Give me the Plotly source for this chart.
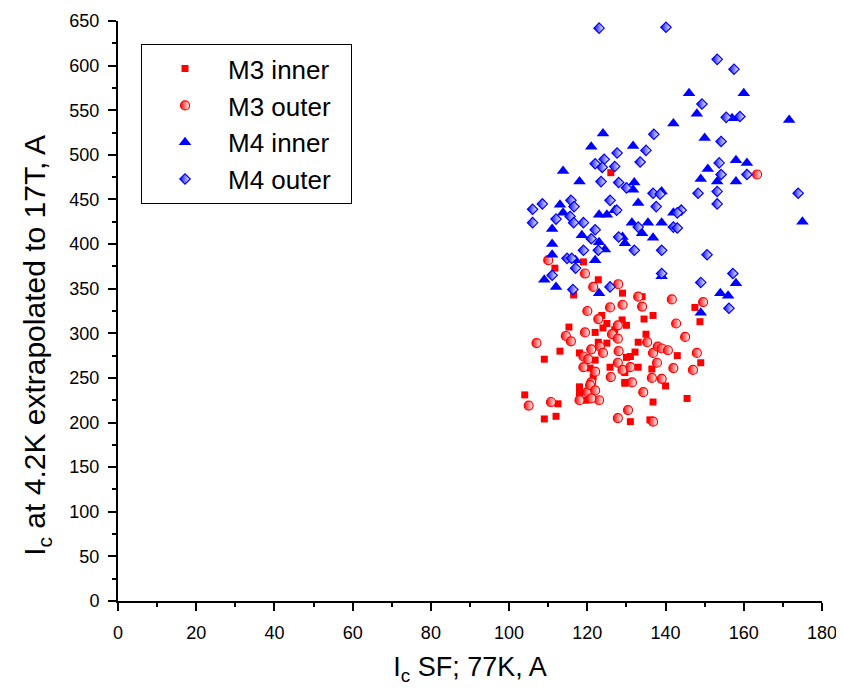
import plotly.graph_objects as go

# M3 inner (red squares)
m3_inner_x = [126, 111.7, 119, 116.5, 122.8, 129, 123.7, 147.5, 134, 136.8, 115.3, 113, 109, 122, 124,
              125, 127, 128.9, 118, 122.8, 125, 122, 120.7, 121.5, 125.8, 130, 129.6, 118, 118, 119.7,
              104, 112.5, 112, 109, 148.8, 135, 133, 132.2, 131, 143, 149, 136.5, 133, 129.6, 129.6,
              140, 136.8, 145.5, 131, 136, 130, 134.5]
m3_inner_y = [480, 373, 380, 343, 360, 345, 320, 329, 341, 320, 307, 280, 271, 301, 306,
              311, 304, 315, 278, 290, 289, 270, 261, 251, 262, 273, 245, 240, 233, 225,
              231, 221, 207, 204, 313, 299, 290, 279, 274, 275, 267, 260, 262, 256, 244,
              241, 223, 227, 201, 203, 309, 316]

# M3 outer (red half-filled circles)
m3_outer_x = [163.4, 110, 119.4, 121.5, 127.9, 120, 125.8, 129, 141.6, 149.6, 133, 134, 114.5, 115.8, 107,
              119.4, 122.8, 126.3, 127.8, 119, 121, 123.2, 124, 120.2, 119, 122, 121, 126, 127.8, 128,
              127.8, 129, 120, 120.7, 122, 118, 123, 121, 105, 110.7, 127.8, 142.7, 145, 135.3, 136.8,
              138, 139, 140.6, 148, 147, 142, 137.8, 131, 131.4, 136.5, 139, 134.3, 130.4, 136.8]
m3_outer_y = [478, 382, 367, 352, 355, 325, 329, 332, 338, 335, 341, 330, 297, 291, 289,
              301, 316, 299, 309, 274, 282, 285, 278, 271, 262, 257, 245, 251, 267, 280,
              294, 259, 234, 242, 236, 225, 225, 227, 219, 223, 205, 311, 296, 290, 278,
              285, 283, 281, 278, 259, 261, 267, 262, 245, 250, 249, 234, 214, 201]

# M4 inner (blue triangles)
m4_inner_x = [146, 160, 148, 157, 171.6, 142, 150, 158, 160.8, 150.8, 149, 153.2, 158, 139, 124,
              121, 131.7, 113.8, 118, 132, 131.7, 113, 113.8, 111, 118.6, 123, 124.5, 111, 111, 123,
              125, 127, 129, 117, 122, 109, 112, 123, 133, 142, 131.4, 135.5, 139, 134, 136.8,
              129.6, 175, 139, 158, 154, 156, 149]
m4_inner_y = [569, 569, 546, 541, 539, 535, 519, 494, 491, 484, 473, 470, 470, 459, 524,
              509, 510, 482, 470, 469, 461, 444, 435, 417, 410, 402, 394, 400, 388, 433,
              433, 438, 408, 382, 382, 360, 352, 345, 446, 435, 424, 424, 424, 412, 407,
              401, 425, 364, 356, 345, 342, 323]

# M4 outer (blue half-filled diamonds)
m4_outer_x = [123, 140.1, 153.2, 157.5, 149.3, 155.5, 159, 137, 135, 133.5, 154.2, 153.7, 154.2, 160.8, 148.3,
              153.2, 173.9, 136.8, 138.6, 127.6, 122, 124.3, 127, 123.8, 123.5, 128, 130, 106, 108.5, 115.8,
              116.6, 106, 112, 115.6, 116.5, 119, 122, 121, 122.8, 119, 125.8, 127.5, 128, 114.8, 116,
              117, 111, 116.3, 125.8, 137.6, 144, 143, 133, 142, 143, 132, 139, 150.6, 153.2, 139,
              149, 157.2, 156.2]
m4_outer_y = [642, 643, 607, 596, 557, 542, 543, 523, 505, 492, 515, 491, 478, 478, 457,
              459, 457, 457, 456, 502, 490, 495, 487, 486, 470, 469, 463, 439, 445, 449,
              442, 424, 428, 431, 424, 424, 416, 406, 393, 393, 449, 438, 408, 384, 384,
              373, 365, 349, 352, 442, 438, 435, 419, 419, 418, 393, 393, 388, 445, 367,
              357, 367, 328]

font = "Liberation Sans, Arial, sans-serif"
pad = "\u00a0\u00a0"

fig = go.Figure()

fig.add_trace(go.Scatter(x=m3_inner_x, y=m3_inner_y, mode="markers", name="M3 inner" + pad,
                         marker=dict(symbol="square", size=7, color="#ff0000")))
fig.add_trace(go.Scatter(x=m3_outer_x, y=m3_outer_y, mode="markers", name="M3 outer" + pad,
                         marker=dict(symbol="circle", size=9, color="#ff0000",
                                     gradient=dict(type="horizontal", color="white"),
                                     line=dict(color="#ff0000", width=1.2))))
fig.add_trace(go.Scatter(x=m4_inner_x, y=m4_inner_y, mode="markers", name="M4 inner" + pad,
                         marker=dict(symbol="triangle-up", size=11, color="#0000ff")))
fig.add_trace(go.Scatter(x=m4_outer_x, y=m4_outer_y, mode="markers", name="M4 outer" + pad,
                         marker=dict(symbol="diamond", size=8, color="#0000ff",
                                     gradient=dict(type="horizontal", color="white"),
                                     line=dict(color="#0000ff", width=1.2))))

axis_common = dict(showline=True, linecolor="black", linewidth=2, showgrid=False, zeroline=False,
                   tickcolor="black", tickwidth=1.5, ticklen=8, automargin=False)

# page body has an 8px margin, so the figure is 8px smaller and margins shifted
fig.update_layout(
    width=836, height=683,
    margin=dict(l=110, r=22, t=13, b=90),
    plot_bgcolor="white", paper_bgcolor="white",
    font=dict(family=font, color="black"),
    showlegend=True,
    xaxis=dict(range=[0, 180], dtick=20, ticks="outside", ticklabelstandoff=6,
               minor=dict(dtick=10, ticks="outside", ticklen=4, tickcolor="black", tickwidth=1.5),
               tickfont=dict(size=18),
               title=dict(text="I<sub>c</sub> SF; 77K, A", font=dict(size=27), standoff=16),
               **axis_common),
    yaxis=dict(range=[0, 650], dtick=50, ticks="outside", ticklabelstandoff=5,
               minor=dict(dtick=25, ticks="outside", ticklen=4, tickcolor="black", tickwidth=1.5),
               tickfont=dict(size=18),
               **axis_common),
    xaxis2=dict(range=[0, 180], dtick=20, ticks="inside", overlaying="x", side="top",
                showticklabels=False,
                minor=dict(dtick=10, ticks="inside", ticklen=4, tickcolor="black", tickwidth=1.5),
                **axis_common),
    yaxis2=dict(range=[0, 650], dtick=50, ticks="inside", overlaying="y", side="right",
                showticklabels=False,
                minor=dict(dtick=25, ticks="inside", ticklen=4, tickcolor="black", tickwidth=1.5),
                **axis_common),
    legend=dict(x=0.0327, y=0.96, xanchor="left", yanchor="top",
                bordercolor="black", borderwidth=1, bgcolor="white",
                font=dict(size=26), itemwidth=76),
    annotations=[dict(text="I<sub>c</sub> at 4.2K extrapolated to 17T, A", textangle=-90,
                      xref="paper", yref="paper", x=-0.115, y=0.44,
                      xanchor="center", yanchor="middle", showarrow=False,
                      font=dict(size=30))],
)

fig.write_html("out.html")
